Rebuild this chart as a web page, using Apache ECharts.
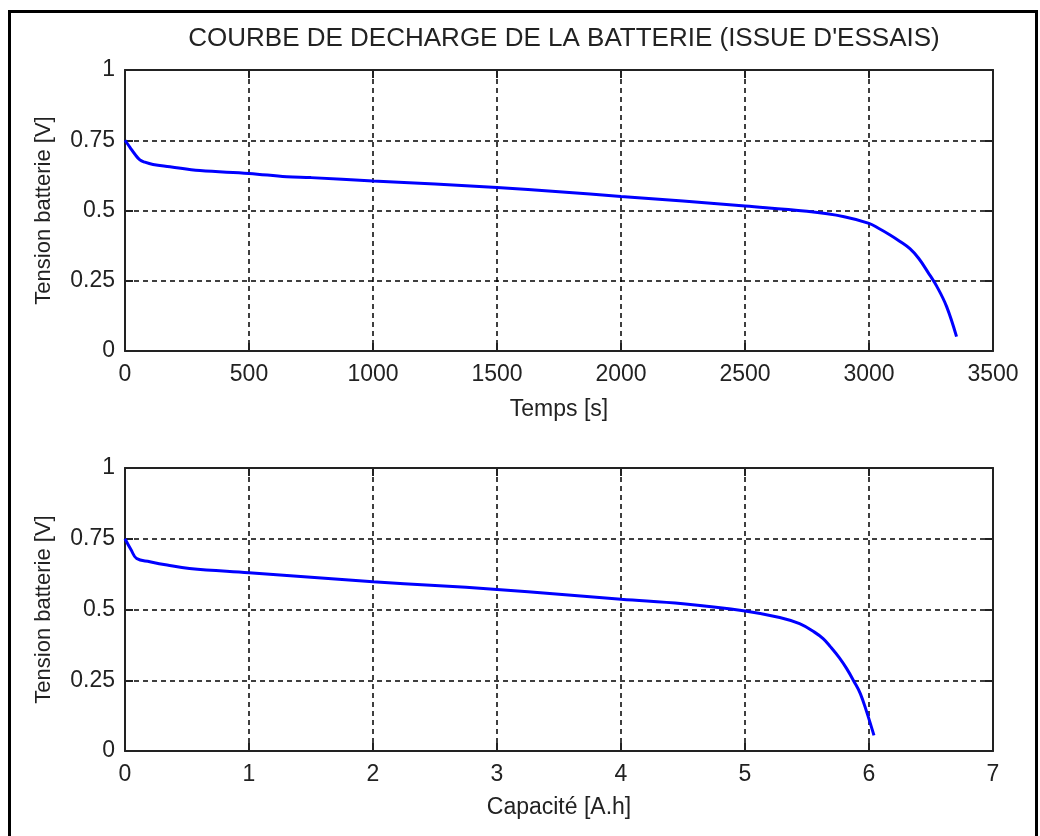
<!DOCTYPE html>
<html>
<head>
<meta charset="utf-8">
<title>Courbe de decharge</title>
<script src="https://cdn.jsdelivr.net/npm/echarts@6/dist/echarts.min.js"></script>
<style>
  html, body { margin: 0; padding: 0; background: #fff; }
  #main { width: 1040px; height: 836px; }
</style>
</head>
<body>
<div id="main"></div>
<script>
// donnees (temps en s, tension en V)
const temps = [0, 20, 40, 60, 80, 113, 181, 302, 500, 652, 750, 1000, 1250, 1500, 1750, 2000, 2250, 2500, 2750, 2900, 3000, 3040, 3085, 3125, 3165, 3200, 3238, 3274, 3313, 3353];
const tensionTemps = [0.75, 0.725, 0.70, 0.68, 0.672, 0.664, 0.656, 0.642, 0.632, 0.62, 0.617, 0.605, 0.594, 0.582, 0.567, 0.55, 0.534, 0.516, 0.497, 0.478, 0.454, 0.436, 0.413, 0.39, 0.364, 0.33, 0.28, 0.229, 0.158, 0.051];

// capacite en A.h
const capacite = [0, 0.05, 0.094, 0.2, 0.34, 0.52, 1.0, 1.5, 2.0, 2.5, 3.0, 3.5, 4.0, 4.5, 5.0, 5.28, 5.44, 5.56, 5.63, 5.69, 5.76, 5.82, 5.88, 5.93, 5.98, 6.04];
const tensionCapa = [0.75, 0.71, 0.68, 0.669, 0.657, 0.645, 0.63, 0.614, 0.598, 0.585, 0.571, 0.554, 0.536, 0.52, 0.495, 0.472, 0.45, 0.42, 0.397, 0.368, 0.33, 0.291, 0.245, 0.203, 0.14, 0.055];

const titre = "COURBE DE DECHARGE DE LA BATTERIE (ISSUE D'ESSAIS)";
const nomY = 'Tension batterie [V]';
const nomX1 = 'Temps [s]';
const nomX2 = 'Capacité [A.h]';

const police = "'Liberation Sans', Arial, sans-serif";
const noir = '#222';

function zip(xs, ys) {
    return xs.map((x, i) => [x, ys[i]]);
}

// pas de separateur de milliers (style matlab)
const brut = v => String(v);

// axe principal (labels + grille pointillee)
function axeX(grid, max, interval, nom, gap) {
    return {
        type: 'value', gridIndex: grid, position: 'bottom',
        min: 0, max: max, interval: interval,
        name: nom, nameLocation: 'middle', nameGap: gap,
        nameTextStyle: { fontFamily: police, fontSize: 23, color: noir },
        axisLine: { show: true, onZero: false, lineStyle: { color: noir, width: 2 } },
        axisTick: { show: true, inside: true, length: 8, lineStyle: { color: noir, width: 2 } },
        axisLabel: { fontFamily: police, fontSize: 23, color: noir, margin: 12, formatter: brut },
        splitLine: { show: true, lineStyle: { color: '#000', width: 1.5, type: [5, 4] } }
    };
}

function axeY(grid) {
    return {
        type: 'value', gridIndex: grid, position: 'left',
        min: 0, max: 1, interval: 0.25,
        name: nomY, nameLocation: 'middle', nameGap: 70,
        nameTextStyle: { fontFamily: police, fontSize: 22, color: noir },
        axisLine: { show: true, onZero: false, lineStyle: { color: noir, width: 2 } },
        axisTick: { show: true, inside: true, length: 8, lineStyle: { color: noir, width: 2 } },
        axisLabel: { fontFamily: police, fontSize: 23, color: noir, margin: 10, formatter: brut },
        splitLine: { show: true, lineStyle: { color: '#000', width: 1.5, type: [5, 4] } }
    };
}

// axes miroirs (haut / droite) pour fermer la boite comme matlab
function miroir(grid, pos, max, interval) {
    return {
        type: 'value', gridIndex: grid, position: pos,
        min: 0, max: max, interval: interval,
        axisLine: { show: true, onZero: false, lineStyle: { color: noir, width: 2 } },
        axisTick: { show: true, inside: true, length: 8, lineStyle: { color: noir, width: 2 } },
        axisLabel: { show: false },
        splitLine: { show: false }
    };
}

const chart = echarts.init(document.getElementById('main'));

const option = {
    backgroundColor: '#fff',
    animation: false,
    title: {
        text: titre, left: 559, top: 21, textAlign: 'center',
        textStyle: { fontFamily: police, fontSize: 26, fontWeight: 'normal', color: noir }
    },
    grid: [
        { left: 125, top: 70, width: 868, height: 281 },
        { left: 125, top: 468, width: 868, height: 283 }
    ],
    xAxis: [
        axeX(0, 3500, 500, nomX1, 47),
        miroir(0, 'top', 3500, 500),
        axeX(1, 7, 1, nomX2, 45),
        miroir(1, 'top', 7, 1)
    ],
    yAxis: [
        axeY(0),
        miroir(0, 'right', 1, 0.25),
        axeY(1),
        miroir(1, 'right', 1, 0.25)
    ],
    series: [
        {
            type: 'line', xAxisIndex: 0, yAxisIndex: 0,
            data: zip(temps, tensionTemps),
            showSymbol: false, smooth: 0.4,
            lineStyle: { color: '#0000ff', width: 3 }
        },
        {
            type: 'line', xAxisIndex: 2, yAxisIndex: 2,
            data: zip(capacite, tensionCapa),
            showSymbol: false, smooth: 0.4,
            lineStyle: { color: '#0000ff', width: 3 }
        }
    ],
    graphic: [
        {
            type: 'rect', silent: true,
            shape: { x: 9.5, y: 11.5, width: 1027, height: 840 },
            style: { fill: null, stroke: '#000', lineWidth: 3 }
        }
    ]
};

chart.setOption(option);
</script>
</body>
</html>
